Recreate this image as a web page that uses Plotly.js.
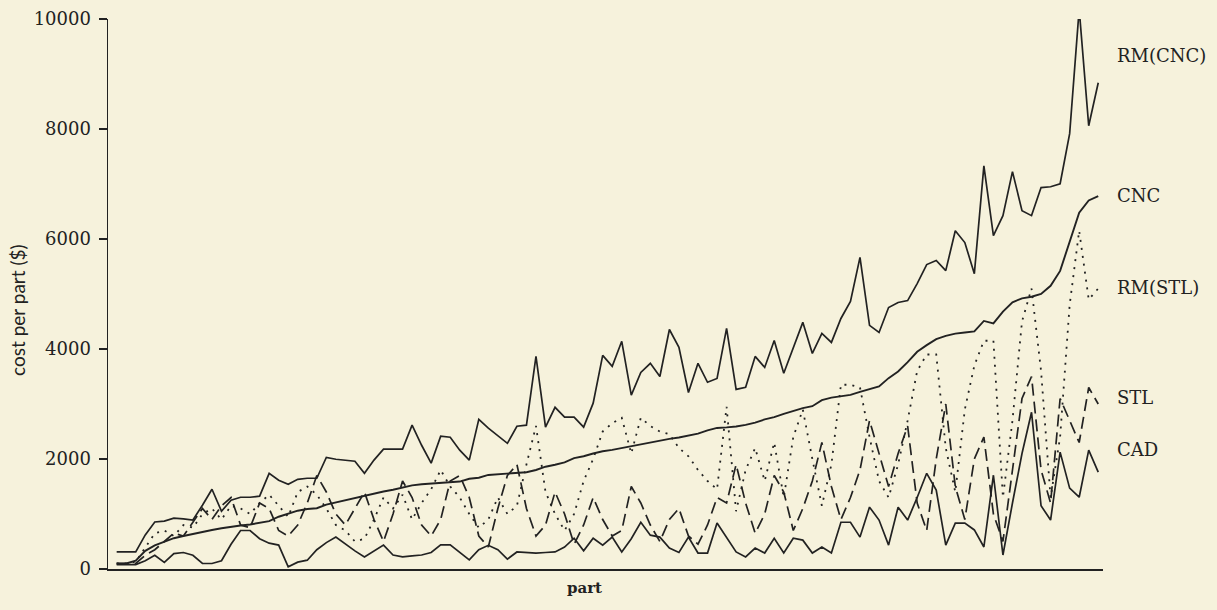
<!DOCTYPE html>
<html>
<head>
<meta charset="utf-8">
<script src="https://cdn.plot.ly/plotly-3.0.1.min.js"></script>
<style>
  html, body { margin: 0; padding: 0; background: #f6f2dc; }
  #chart { width: 1217px; height: 610px; }
</style>
</head>
<body>
<div id="chart"></div>
<script>
// Cost per part ($) for each part, parts numbered 1..104 (left to right)
const rmCNC = [310,310,310,620,855,870,925,910,890,1160,1450,1050,1250,1305,1305,1325,1740,1615,1540,1630,
  1650,1650,2030,1995,1980,1960,1740,1980,2180,2180,2180,2615,2250,1925,2415,2395,2160,1980,2720,2560,
  2415,2285,2595,2615,3865,2580,2940,2760,2760,2580,3015,3885,3685,4140,3160,3575,3740,3500,4355,4030,
  3210,3740,3395,3465,4375,3265,3305,3865,3665,4155,3560,4010,4485,3920,4285,4120,4555,4865,5665,4430,
  4300,4755,4845,4880,5190,5535,5610,5425,6150,5935,5370,7330,6060,6425,7225,6515,6425,6935,6950,7005,
  7915,10180,8060,8840];

const cnc = [100,100,150,330,430,500,560,600,640,680,710,740,770,790,810,840,870,950,1010,1060,
  1090,1105,1170,1210,1260,1300,1330,1370,1410,1440,1480,1520,1540,1550,1560,1570,1590,1640,1660,1710,
  1725,1730,1745,1760,1800,1860,1895,1940,2015,2050,2100,2140,2165,2200,2230,2265,2300,2330,2365,2390,
  2420,2460,2520,2565,2575,2590,2620,2660,2720,2760,2820,2870,2925,2960,3070,3115,3140,3165,3220,3270,
  3320,3470,3590,3760,3950,4070,4180,4240,4280,4300,4320,4510,4465,4680,4850,4920,4950,5000,5150,5420,
  5960,6480,6700,6780];

const rmSTL = [100,100,130,400,650,700,600,800,750,1000,1100,900,1150,1100,1000,1200,1350,1150,950,1400,
  1500,1350,1100,800,700,500,550,900,1300,1100,1350,900,1200,1450,1800,1500,1300,1000,750,900,
  1300,1000,1150,1900,2600,1400,1000,700,1000,1600,2000,2500,2650,2750,2100,2750,2600,2500,2450,2200,
  2050,1800,1600,1450,2950,1050,1800,2200,1600,2300,1300,2400,2900,2000,1150,1900,3350,3350,3300,2400,
  1600,1300,1900,2700,3600,3900,3900,2200,1400,2900,3700,4150,4150,1300,2700,4500,5100,3600,1300,2400,
  4800,6150,4900,5100];

const stl = [100,100,100,250,350,500,650,600,850,1100,900,1150,1300,800,750,1200,1100,700,600,800,
  1200,1700,1400,1000,800,1100,1400,900,500,1000,1600,1300,800,600,900,1600,1700,1300,600,400,
  1100,1700,1900,1100,600,800,1400,1000,450,800,1300,900,600,700,1500,1200,800,500,900,1100,
  600,450,800,1300,1200,1900,1200,650,1000,1700,1400,700,1100,1600,2300,1500,900,1300,1800,2700,
  2100,1500,2100,2600,1200,700,2000,3000,1500,900,2000,2400,1000,500,1800,3100,3500,1800,1200,3100,
  2700,2300,3300,3000];

const cad = [80,80,80,150,250,120,280,300,250,100,100,150,450,700,700,550,470,435,40,125,
  160,350,480,580,450,330,220,330,435,255,220,240,255,300,440,440,300,165,350,430,
  350,180,310,300,290,300,310,400,560,330,560,435,580,310,550,850,615,580,380,300,
  580,290,290,835,580,310,220,380,290,560,290,560,525,290,400,290,850,850,580,1125,
  890,435,1125,890,1300,1740,1435,435,835,835,710,400,1705,255,1200,2100,2850,1150,890,2125,
  1470,1305,2160,1760];

const seriesNames = ["RM(CNC)", "CNC", "RM(STL)", "STL", "CAD"];
const yTicks = [0, 2000, 4000, 6000, 8000, 10000];
const xTitle = "part";
const yTitle = "cost per part ($)";

const ink = "#222";
const bg = "#f6f2dc";

function line(y, name, dash, width) {
  return {
    y: y, x0: 1, dx: 1, name: name, type: "scatter", mode: "lines",
    line: { color: ink, width: width, dash: dash },
    hoverinfo: "skip"
  };
}

const data = [
  line(cad, seriesNames[4], "solid", 1.7),
  line(stl, seriesNames[3], "12px,6px", 1.7),
  line(rmSTL, seriesNames[2], "2px,6px", 1.8),
  line(cnc, seriesNames[1], "solid", 1.9),
  line(rmCNC, seriesNames[0], "solid", 1.7)
];

const labelY = [9345, 6800, 5110, 3110, 2165];

const annotations = seriesNames.map((n, k) => ({
  x: 1.0125, y: labelY[k], xref: "paper", yref: "y",
  text: n, showarrow: false, xanchor: "left", yanchor: "middle",
  font: { family: "DejaVu Serif", size: 18, color: ink }
}));

annotations.push({
  x: 0.479, y: -0.034, xref: "paper", yref: "paper",
  text: "<b>" + xTitle + "</b>", showarrow: false, xanchor: "center", yanchor: "middle",
  font: { family: "DejaVu Serif", size: 15, color: ink }
});
annotations.push({
  x: -0.0905, y: 0.471, xref: "paper", yref: "paper", textangle: -90,
  text: yTitle, showarrow: false, xanchor: "center", yanchor: "middle",
  font: { family: "Lato", size: 19, color: ink }
});

const layout = {
  width: 1217, height: 610,
  margin: { l: 108, r: 114, t: 19, b: 41 },
  paper_bgcolor: bg, plot_bgcolor: bg,
  showlegend: false,
  xaxis: {
    range: [0.09, 104.5],
    showgrid: false, zeroline: false,
    showline: true, linecolor: ink, linewidth: 2,
    ticks: "", showticklabels: false
  },
  yaxis: {
    range: [0, 10000],
    tickvals: yTicks, ticktext: yTicks.map(String),
    showgrid: false, zeroline: false,
    showline: true, linecolor: ink, linewidth: 1.5,
    ticks: "outside", ticklen: 8, tickwidth: 1.2, tickcolor: ink,
    tickfont: { family: "DejaVu Serif", size: 18, color: ink },
    ticklabelstandoff: 4
  },
  annotations: annotations
};

Plotly.newPlot("chart", data, layout, { displayModeBar: false, staticPlot: true });
</script>
</body>
</html>
